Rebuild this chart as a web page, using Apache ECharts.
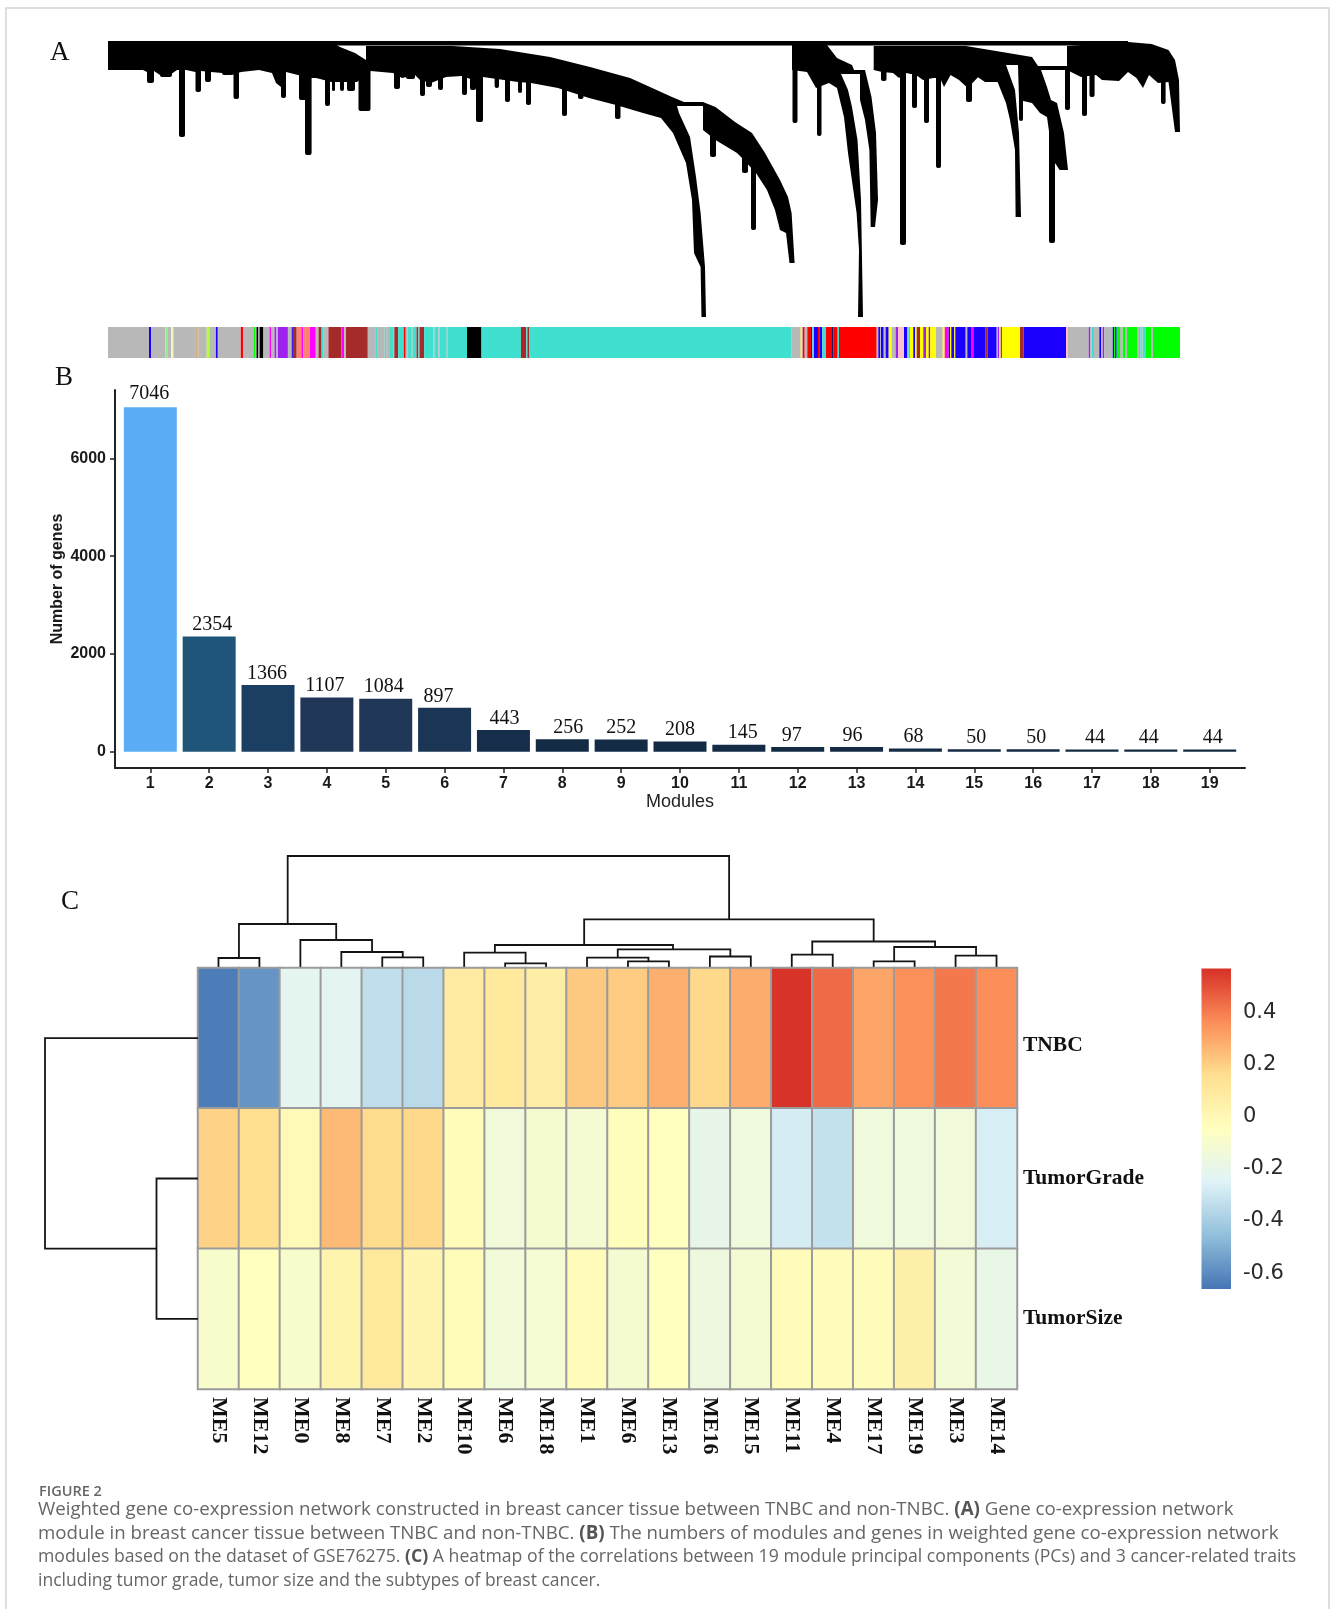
<!DOCTYPE html>
<html>
<head>
<meta charset="utf-8">
<style>html,body{margin:0;padding:0;background:#fff}#main{width:1330px;height:1609px}</style>
<script src="https://cdn.jsdelivr.net/npm/echarts@6/dist/echarts.min.js"></script>
</head>
<body>
<div id="main"></div>
<script>
// ---------- Panel A: gene dendrogram, traced as [leaf position, merge height]
const dendroBodies = [
  [[0,284],[222,284],[232,278],[247,272],[258,265],[258,279],[345,279],[392,276],[442,268],[482,258],[522,247],[542,238],[564,228],[576,223],[595,223],[607.5,218],[627,203],[644,192],[657,172],[672,145],[680,128],[683.6,112],[686.6,62],[681.5,62],[678,92],[672,95],[667,115],[659,135],[648,152],[633,168],[629,172],[607.5,185],[595,195],[595,219],[569,219],[571,212],[582,188],[588,148],[592.6,112],[597,58],[598,8],[593.5,8],[592.6,58],[586,72],[584,125],[578,162],[565,192],[553,207],[535,212],[508,220],[481,227],[450,237],[423,242],[410,243],[396,245],[375,248],[365,245],[354,249],[338,248],[323,242],[312,245],[307,250],[294,247],[285,252],[262.5,254],[249,243],[223,243],[216,245],[208,247],[204,247],[190,250],[178,253],[173,238],[168,242],[164,252],[151,255],[133,253],[124,250],[114,252],[103,253],[93,254],[87.5,253],[78,255],[69,255],[59,248],[52,250],[46,254],[39,253],[35,255],[0,255]],
  [[684,280],[719,280],[729,267],[744,260],[746,255],[757,255],[763.5,228],[768,192],[770,125],[767,98],[762.7,98],[761.4,175],[757,205],[752,225],[752,251],[733,251],[740,235],[744,218],[749.5,185],[753,125],[755,8],[750,8],[751,75],[748.6,112],[740,172],[736,208],[729,237],[721,242],[708,237],[699,253],[684,255]],
  [[765.7,279],[858,279],[894,273],[924,268],[930,259],[959,259],[959,255],[933,255],[939,238],[943,225],[949,222],[956,192],[960,155],[951.6,155],[945,165],[939,208],[932,212],[924,222],[911,225],[910,260],[898,260],[907,235],[911,192],[913,108],[907.6,108],[907,175],[902,205],[898,222],[889.6,243],[877,243],[870,247.7],[859.7,237],[851,245],[842.6,250],[836,238],[832,247],[825.5,247],[815,245],[808,250],[798,252],[791,247],[785,252],[774,253],[765.7,255]],
  [[959,279],[1020,283],[1043.5,281],[1060.5,275],[1067,265],[1071,245],[1072,193],[1067,193],[1060.5,243],[1050,242],[1041,250],[1035,237],[1028.5,247],[1020,253],[1011,244],[994,245],[988,250],[973,248],[959,255]]
];
const rootBranch = [222,1020,279.5,284];
// [start, end, lowest height, height where it leaves the body]
const dendroDrips = [
  [39,46,242,258],[52,64,248,258],[71,77,188,258],[87.5,93,233,258],[97,103,243,258],[114,124,250,258],[125.5,131,226,258],
  [173,178,227,258],[168,178,242,258],[191,203,225,258],[197,203.6,170,258],[215,250,245,258],[217,222,219,258],[224,227,234,258],[232,236,234,258],[239,247,234,258],[250.5,262.5,214,258],
  [286,292,236,258],[298,307,246,258],[312,317,229,258],[318,324,238,258],[330,335,235,258],[354,359,230,258],[362,368,235,258],[368,375,203,258],[386.6,391,237,258],[397,402,223,258],[410,414,232,258],[418,423,220,258],[454,459,209,245],[470,475.5,226,245],[507,512.5,206,235],
  [602,608,168,200],[634,640,152,170],[643,648,95,160],
  [684.5,689.5,202,258],[709,713.5,189,258],
  [773,778.5,244,258],[792,798,80,258],[804,809,217,258],[816,821,202,258],[828,833,157,258],[858,864,223,258],[911,915,204,258],[941,947,82,215],
  [957,962,215,258],[974,979,209,258],[981.5,986.6,228,258],[1053,1057.6,221,250]
];
const moduleColours = {g:'#b8b8b8',t:'#40e0d0',n:'#a52a2a',b:'#1b00ff',r:'#ff0000',G:'#00ff00',y:'#ffff00',m:'#ff00ff',p:'#a020f0',k:'#ffc0cb',K:'#000000',s:'#fa8072',a:'#d2b48c',Y:'#adff2f',l:'#90ee90',e:'#f5f5c0',d:'#191970'};
// each run: [leaf position where it ends, module colour]
const stripRuns = [[41,'g'],[43.2,'b'],[57.4,'g'],[59.3,'l'],[63.2,'g'],[65.4,'e'],[86.9,'g'],[90.7,'a'],[98.7,'g'],[101.4,'Y'],[107.9,'g'],[109.8,'b'],[132.8,'g'],[135.1,'r'],[145.4,'g'],[147.7,'G'],[148.5,'g'],[150.4,'K'],[151.6,'g'],[155.4,'K'],[161.5,'g'],[163.4,'m'],[166.5,'g'],[168.4,'p'],[169.9,'g'],[179.9,'p'],[183.7,'g'],[184.9,'b'],[188.7,'n'],[193.3,'s'],[195.2,'m'],[197.1,'s'],[201.7,'s'],[207.8,'m'],[210.5,'g'],[213.6,'n'],[215.1,'t'],[220.4,'g'],[233.4,'n'],[236.1,'m'],[238,'g'],[259.8,'n'],[267.9,'g'],[269.8,'t'],[276.7,'g'],[278.2,'t'],[282,'g'],[285.1,'t'],[286.3,'g'],[290.1,'n'],[295.8,'t'],[297.7,'r'],[299.6,'g'],[303.1,'t'],[304.6,'g'],[308.5,'t'],[310.4,'n'],[311.5,'t'],[316.1,'n'],[325.3,'t'],[326.4,'g'],[330.3,'t'],[331.4,'g'],[338.7,'t'],[339.8,'g'],[359,'t'],[373.5,'K'],[412.9,'t'],[418.3,'n'],[419.4,'t'],[421,'n'],[683.7,'t'],
[692.7,'g'],[694,'y'],[694.7,'g'],[696.7,'r'],[699.3,'g'],[703,'r'],[704.3,'b'],[706,'t'],[710,'b'],[711.3,'r'],[714.3,'b'],[718,'t'],[724,'r'],[725.7,'d'],[729.7,'r'],[731,'t'],[768.7,'r'],[770.3,'g'],[772,'b'],[773,'g'],[775.7,'b'],[777.7,'g'],[780.7,'b'],[783.7,'y'],[787.7,'g'],[790,'p'],[796,'k'],[799,'b'],[800.3,'g'],[802,'t'],[805.3,'y'],[807,'b'],[808.7,'y'],[812,'n'],[815.3,'y'],[818,'p'],[820.7,'y'],[822.3,'n'],[828,'y'],[834.7,'g'],[836.7,'y'],[840.7,'m'],[842,'b'],[843.3,'y'],[846.3,'b'],[847.3,'y'],[857.7,'b'],[859.3,'g'],[863,'b'],[865.3,'m'],[877.7,'b'],[879.7,'n'],[888.7,'b'],[890,'g'],[891.3,'p'],[892.7,'y'],[894,'p'],[912,'y'],[915.7,'n'],[958,'b'],[959.7,'k'],[980.7,'g'],[982.3,'p'],[983.7,'g'],[986,'t'],[991.3,'g'],[993,'b'],[994.7,'g'],[996.3,'p'],[1004.7,'g'],[1006,'b'],[1007,'G'],[1008.7,'b'],[1012,'G'],[1014.7,'g'],[1017,'G'],[1019,'g'],[1029,'G'],[1031,'g'],[1032.7,'t'],[1034.7,'g'],[1038,'t'],[1043,'G'],[1045,'g'],[1072,'G']];

// ---------- Panel B
const moduleIds = [1,2,3,4,5,6,7,8,9,10,11,12,13,14,15,16,17,18,19];
const geneCounts = [7046,2354,1366,1107,1084,897,443,256,252,208,145,97,96,68,50,50,44,44,44];
const barColours = ['#5aadf5','#1f5578','#1b3f62','#203758','#203758','#1b3555','#162d4c','#132b45','#132b45','#132b44','#132b44','#132b43','#132b43','#132b43','#132b43','#132b43','#132b43','#132b43','#132b43'];
const labelNudge = [-1,3,-1,-2,-2,-6,1,6,0,0,4,-6,-4,-2,2,3,3,-2,3];
const labelLift = [-2,0,0,0,0,0,0,0,0,0,0,0,0,0,0,0,0,0,0];
const countTicks = [0,2000,4000,6000];

// ---------- Panel C
const moduleNames = ['ME5','ME12','ME0','ME8','ME7','ME2','ME10','ME6','ME18','ME1','ME6','ME13','ME16','ME15','ME11','ME4','ME17','ME19','ME3','ME14'];
const traitNames = ['TNBC','TumorGrade','TumorSize'];
const tnbcCorr  = [-0.64,-0.573,-0.22,-0.23,-0.334,-0.35,0.085,0.10,0.065,0.215,0.21,0.278,0.175,0.285,0.56,0.437,0.303,0.355,0.408,0.36];
const gradeCorr = [0.19,0.157,-0.01,0.255,0.17,0.175,-0.02,-0.144,-0.11,-0.12,-0.04,-0.045,-0.2,-0.15,-0.278,-0.323,-0.15,-0.155,-0.145,-0.272];
const sizeCorr  = [-0.09,-0.05,-0.09,0.025,0.1,0.02,-0.02,-0.14,-0.115,-0.03,-0.11,-0.05,-0.16,-0.12,-0.03,-0.03,-0.03,0.05,-0.13,-0.19];
const corrTicks = [-0.6,-0.4,-0.2,0,0.2,0.4];
const corrColours = ['#4575b4','#91bfdb','#e0f3f8','#ffffbf','#fee090','#fc8d59','#d73027'];
const corrMin = -0.661, corrMax = 0.567;
// merges: [left leaf pos, left height, right leaf pos, right height, merge height]
const columnMerges = [
  [0.5,0,1.5,0,10],[4.5,0,5.5,0,10.7],[3.5,0,5,10.7,16],[2.5,0,4.25,16,28],[1,10,3.375,28,44],
  [7.5,0,8.5,0,4.7],[6.5,0,8,4.7,15.4],[10.5,0,11.5,0,6.7],[9.5,0,11,6.7,10.3],[12.5,0,13.5,0,11.5],[10.25,10.3,13,11.5,18.6],[7.25,15.4,11.6,18.6,23],
  [14.5,0,15.5,0,13.4],[16.5,0,17.5,0,6.7],[18.5,0,19.5,0,12.3],[17,6.7,19,12.3,21],[15,13.4,18,21,26.5],[9.43,23,16.5,26.5,48.6],
  [2.19,44,12.97,48.6,112]
];
const rowMerges = [[1.5,0,2.5,0,41.5],[0.5,0,2,41.5,153]];

// ---------- Caption
const captionLines = [
  '{r|Weighted gene co-expression network constructed in breast cancer tissue between TNBC and non-TNBC. }{b|(A)}{r| Gene co-expression network}',
  '{r|module in breast cancer tissue between TNBC and non-TNBC. }{b|(B)}{r| The numbers of modules and genes in weighted gene co-expression network}',
  '{r|modules based on the dataset of GSE76275. }{b|(C)}{r| A heatmap of the correlations between 19 module principal components (PCs) and 3 cancer-related traits}',
  '{r|including tumor grade, tumor size and the subtypes of breast cancer.}'
];
const captionSizes = [18.7,18.7,17.66,17.5];

// ---------- helpers
const stripData = stripRuns.map((r,i)=>[i?stripRuns[i-1][0]:0, r[0]]);
const serif = '"Liberation Serif","Times New Roman",serif';
const sans = '"Liberation Sans",Arial,sans-serif';
const capFont = '"Open Sans","Noto Sans",sans-serif';

function bracketRender(swap){
  return function(params, api){
    const v=i=>api.value(i);
    const p=(a,h)=>api.coord(swap?[h,a]:[a,h]);
    return {type:'polyline',shape:{points:[p(v(0),v(1)),p(v(0),v(4)),p(v(2),v(4)),p(v(2),v(3))]},
      style:{stroke:'#141414',lineWidth:1.8,fill:null},silent:true};
  };
}
const hidden = {show:false};
function hiddenAxis(i,min,max,extra){return Object.assign({type:'value',gridIndex:i,min,max,show:false},extra||{});}

const option = {
  animation:false,
  backgroundColor:'#fff',
  grid:[
    {left:108,top:35,width:1072,height:290},
    {left:108,top:327,width:1072,height:31},
    {left:115,top:390,width:1130,height:378},
    {left:198,top:968,width:819,height:421},
    {left:198,top:856,width:819,height:112},
    {left:45,top:968,width:153,height:421},
    {left:1201.5,top:968.5,width:29.5,height:320.5}
  ],
  xAxis:[
    hiddenAxis(0,0,1072),
    hiddenAxis(1,0,1072),
    {type:'value',gridIndex:2,min:0.4,max:19.6,position:'bottom',splitLine:hidden,
      axisLine:{show:true,onZero:false,lineStyle:{color:'#222',width:2}},
      axisTick:{show:true,length:5,customValues:moduleIds,lineStyle:{color:'#222',width:1.5}},
      axisLabel:{customValues:moduleIds,margin:8,fontFamily:sans,fontWeight:'bold',fontSize:16,color:'#1a1a1a',formatter:v=>String(v)},
      name:'Modules',nameLocation:'middle',nameGap:25,nameMoveOverlap:false,nameTextStyle:{fontFamily:sans,fontSize:18,color:'#222'}},
    {type:'category',gridIndex:3,data:moduleNames,position:'bottom',axisLine:hidden,axisTick:hidden,splitLine:hidden,
      axisLabel:{interval:0,rotate:-90,margin:8,fontFamily:serif,fontWeight:'bold',fontSize:22,color:'#111'}},
    hiddenAxis(4,0,20),
    hiddenAxis(5,0,153,{inverse:true}),
    hiddenAxis(6,0,1)
  ],
  yAxis:[
    hiddenAxis(0,0,290),
    hiddenAxis(1,0,1),
    {type:'value',gridIndex:2,min:-333,max:7397,splitLine:hidden,
      axisLine:{show:true,onZero:false,lineStyle:{color:'#222',width:2}},
      axisTick:{show:true,length:5,customValues:countTicks,lineStyle:{color:'#222',width:1.5}},
      axisLabel:{customValues:countTicks,margin:9,fontFamily:sans,fontWeight:'bold',fontSize:16,color:'#1a1a1a',formatter:v=>String(v)},
      name:'Number of genes',nameLocation:'middle',nameGap:49,nameMoveOverlap:false,nameTextStyle:{fontFamily:sans,fontWeight:'bold',fontSize:16,color:'#1a1a1a'}},
    {type:'category',gridIndex:3,data:traitNames,inverse:true,position:'right',axisLine:hidden,axisTick:hidden,splitLine:hidden,
      axisLabel:{interval:0,margin:6,fontFamily:serif,fontWeight:'bold',fontSize:21.5,color:'#111',
        formatter:v=>v==='TNBC'?'{t|TNBC}':v,
        rich:{t:{fontFamily:serif,fontWeight:'bold',fontSize:21.5,color:'#111',padding:[14,0,0,0]}}}},
    hiddenAxis(4,0,112),
    hiddenAxis(5,0,3,{inverse:true}),
    {type:'value',gridIndex:6,min:corrMin,max:corrMax,position:'right',splitLine:hidden,axisLine:hidden,axisTick:hidden,
      axisLabel:{customValues:corrTicks,margin:12,fontFamily:'"DejaVu Sans",sans-serif',fontSize:21,color:'#2a2a2a',
        formatter:v=>String(Math.round(v*10)/10)}}
  ],
  visualMap:{type:'continuous',show:false,seriesIndex:5,min:corrMin,max:corrMax,inRange:{color:corrColours}},
  series:[
    {type:'custom',xAxisIndex:0,yAxisIndex:0,silent:true,clip:false,data:dendroBodies.map((b,i)=>[i]),
      encode:{x:0,y:0},
      renderItem:(params,api)=>({type:'polygon',shape:{points:dendroBodies[api.value(0)].map(c=>api.coord(c))},style:{fill:'#000'}})},
    {type:'custom',xAxisIndex:0,yAxisIndex:0,silent:true,clip:false,data:dendroDrips.concat([rootBranch]),
      encode:{x:0,y:2},
      renderItem:(params,api)=>{
        const a=api.coord([api.value(0),api.value(3)]),b=api.coord([api.value(1),api.value(2)]);
        return {type:'rect',shape:{x:a[0],y:a[1],width:b[0]-a[0],height:b[1]-a[1],r:[0,0,2,2]},style:{fill:'#000'}};
      }},
    {type:'custom',xAxisIndex:1,yAxisIndex:1,silent:true,data:stripData,encode:{x:0},
      renderItem:(params,api)=>{
        const a=api.coord([api.value(0),1]),b=api.coord([api.value(1),0]);
        return {type:'rect',shape:{x:a[0],y:a[1],width:b[0]-a[0],height:b[1]-a[1]},style:{fill:moduleColours[stripRuns[params.dataIndex][1]]}};
      }},
    {type:'bar',xAxisIndex:2,yAxisIndex:2,barWidth:53,silent:true,
      itemStyle:{color:p=>barColours[p.dataIndex]},
      data:geneCounts.map((v,i)=>({value:[moduleIds[i],v],label:{offset:[labelNudge[i],labelLift[i]]}})),
      label:{show:true,position:'top',distance:1.5,fontFamily:serif,fontSize:20,color:'#111',formatter:p=>String(p.value[1])}},
    {type:'custom',xAxisIndex:4,yAxisIndex:4,silent:true,clip:false,data:columnMerges,encode:{x:0,y:4},renderItem:bracketRender(false)},
    {type:'heatmap',xAxisIndex:3,yAxisIndex:3,silent:true,
      data:[tnbcCorr,gradeCorr,sizeCorr].flatMap((row,r)=>row.map((v,c)=>[c,r,v])),
      itemStyle:{borderColor:'#9b9b9b',borderWidth:2},emphasis:{disabled:true}},
    {type:'custom',xAxisIndex:5,yAxisIndex:5,silent:true,clip:false,data:rowMerges,encode:{y:0,x:4},renderItem:bracketRender(true)},
    {type:'custom',xAxisIndex:6,yAxisIndex:6,silent:true,data:[[0,1,corrMin,corrMax]],encode:{y:[2,3]},
      renderItem:(params,api)=>{
        const a=api.coord([api.value(0),api.value(3)]),b=api.coord([api.value(1),api.value(2)]);
        const n=corrColours.length-1;
        return {type:'rect',shape:{x:a[0],y:a[1],width:b[0]-a[0],height:b[1]-a[1]},
          style:{fill:new echarts.graphic.LinearGradient(0,1,0,0,corrColours.map((c,i)=>({offset:i/n,color:c})))}};
      }}
  ],
  graphic:[
    {type:'rect',silent:true,shape:{x:6,y:8,width:1323,height:1640},style:{fill:null,stroke:'#d4d4d4',lineWidth:1.5}},
    {type:'text',left:50,top:39,style:{text:'A',fontFamily:serif,fontSize:27,fill:'#111'}},
    {type:'text',left:55,top:364,style:{text:'B',fontFamily:serif,fontSize:27,fill:'#111'}},
    {type:'text',left:61,top:888,style:{text:'C',fontFamily:serif,fontSize:27,fill:'#111'}},
    {type:'text',left:39,top:1484,style:{text:'FIGURE 2',fontFamily:capFont,fontSize:14.5,fontWeight:600,fill:'#666'}},
    ...captionLines.map((t,i)=>({type:'text',left:38,top:1500.5+i*23.8,style:{text:t,
      rich:{r:{fontFamily:capFont,fontSize:captionSizes[i],fill:'#666'},b:{fontFamily:capFont,fontSize:captionSizes[i],fontWeight:'bold',fill:'#555'}}}}))
  ]
};
const chart = echarts.init(document.getElementById('main'),null,{width:1330,height:1609});
chart.setOption(option);
</script>
</body>
</html>
